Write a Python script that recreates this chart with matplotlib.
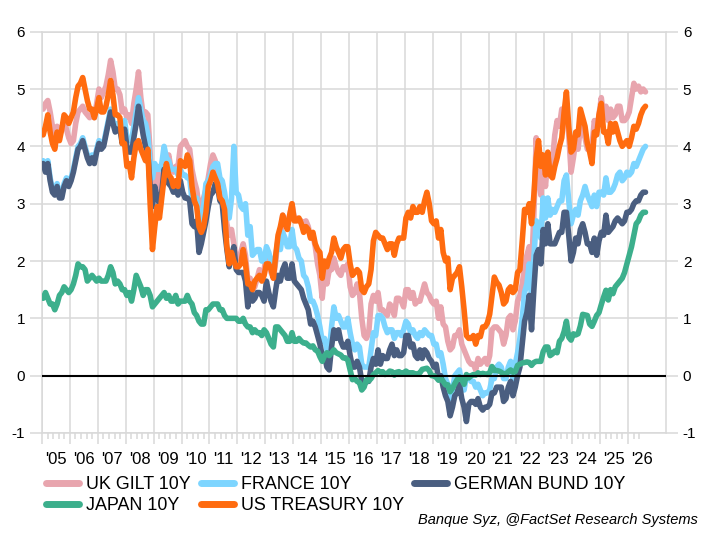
import numpy as np
import matplotlib
matplotlib.use("Agg")
import matplotlib.pyplot as plt
from matplotlib.lines import Line2D
from matplotlib.transforms import blended_transform_factory

plt.rcParams['font.family'] = ['Liberation Sans', 'DejaVu Sans']
plt.rcParams['axes.unicode_minus'] = False

# monthly 10y yields, Jan 2005 .. Aug 2026
uk_gilt = [
    4.65, 4.75, 4.80, 4.60, 4.35, 4.20, 4.35, 4.30, 4.30, 4.45, 4.30, 4.15,
    4.05, 4.10, 4.40, 4.60, 4.65, 4.70, 4.60, 4.55, 4.50, 4.60, 4.50, 4.75,
    5.00, 4.85, 4.95, 5.05, 5.25, 5.50, 5.30, 5.00, 5.00, 4.90, 4.60, 4.65,
    4.50, 4.55, 4.40, 4.75, 5.00, 5.30, 4.85, 4.55, 4.60, 4.55, 3.90, 3.10,
    3.60, 3.65, 3.20, 3.65, 3.80, 3.75, 3.85, 3.60, 3.55, 3.65, 3.65, 4.00,
    4.05, 4.10, 4.00, 3.95, 3.60, 3.40, 3.25, 2.95, 3.00, 3.10, 3.25, 3.45,
    3.70, 3.85, 3.75, 3.55, 3.40, 3.35, 2.95, 2.65, 2.45, 2.55, 2.30, 2.05,
    2.05, 2.15, 2.30, 2.10, 1.65, 1.70, 1.50, 1.55, 1.70, 1.85, 1.80, 1.85,
    2.10, 2.05, 1.80, 1.70, 2.00, 2.40, 2.35, 2.80, 2.70, 2.65, 2.80, 3.00,
    2.75, 2.75, 2.70, 2.70, 2.65, 2.70, 2.60, 2.40, 2.45, 2.25, 1.95, 1.75,
    1.35, 1.80, 1.60, 1.85, 1.85, 2.05, 1.90, 1.80, 1.75, 1.90, 1.85, 1.95,
    1.55, 1.40, 1.45, 1.60, 1.45, 1.00, 0.70, 0.65, 0.75, 1.25, 1.40, 1.30,
    1.45, 1.15, 1.15, 1.10, 1.05, 1.25, 1.20, 1.05, 1.35, 1.35, 1.30, 1.20,
    1.50, 1.50, 1.35, 1.45, 1.25, 1.30, 1.30, 1.45, 1.60, 1.45, 1.40, 1.30,
    1.25, 1.30, 1.00, 1.20, 0.90, 0.85, 0.60, 0.45, 0.50, 0.70, 0.70, 0.80,
    0.55, 0.45, 0.35, 0.25, 0.20, 0.20, 0.10, 0.30, 0.20, 0.25, 0.30, 0.20,
    0.35, 0.80, 0.85, 0.85, 0.80, 0.75, 0.55, 0.70, 1.00, 1.05, 0.80, 0.95,
    1.30, 1.40, 1.60, 1.90, 2.10, 2.25, 1.85, 2.80, 4.15, 3.50, 3.15, 3.65,
    3.30, 3.80, 3.50, 3.75, 4.20, 4.45, 4.35, 4.65, 4.45, 4.60, 4.20, 3.55,
    3.80, 4.10, 3.95, 4.35, 4.30, 4.15, 3.95, 4.00, 4.00, 4.45, 4.25, 4.55,
    4.85, 4.50, 4.70, 4.45, 4.65, 4.50, 4.55, 4.70, 4.70, 4.45, 4.45, 4.50,
    4.60, 4.85, 5.10, 5.00, 5.05, 4.95, 5.00, 4.95,
]

france = [
    3.75, 3.60, 3.75, 3.45, 3.25, 3.20, 3.35, 3.15, 3.15, 3.35, 3.45, 3.35,
    3.45, 3.60, 3.80, 4.00, 4.05, 4.15, 4.00, 3.85, 3.75, 3.85, 3.75, 3.95,
    4.10, 4.00, 4.05, 4.25, 4.45, 4.65, 4.45, 4.30, 4.40, 4.40, 4.20, 4.45,
    4.15, 4.10, 4.10, 4.35, 4.60, 4.85, 4.65, 4.45, 4.40, 4.20, 3.70, 3.45,
    3.70, 3.60, 3.60, 3.70, 4.00, 3.80, 3.75, 3.60, 3.60, 3.60, 3.50, 3.60,
    3.50, 3.50, 3.45, 3.45, 3.05, 3.05, 3.10, 2.65, 2.70, 2.95, 3.35, 3.40,
    3.50, 3.65, 3.70, 3.70, 3.45, 3.40, 3.20, 2.90, 2.75, 3.10, 4.00, 3.20,
    3.15, 2.95, 2.90, 3.00, 2.45, 2.60, 2.10, 2.15, 2.20, 2.20, 2.00, 2.00,
    2.25, 2.15, 2.00, 1.75, 2.10, 2.35, 2.20, 2.50, 2.40, 2.25, 2.25, 2.55,
    2.25, 2.20, 2.05, 2.00, 1.75, 1.70, 1.55, 1.30, 1.30, 1.20, 1.05, 0.85,
    0.60, 0.65, 0.45, 0.40, 0.85, 1.20, 1.00, 1.05, 0.95, 0.85, 0.85, 1.00,
    0.75, 0.55, 0.45, 0.55, 0.50, 0.20, 0.15, 0.15, 0.15, 0.45, 0.75, 0.70,
    1.05, 1.05, 1.00, 0.85, 0.75, 0.80, 0.80, 0.65, 0.75, 0.75, 0.70, 0.80,
    0.95, 0.90, 0.75, 0.80, 0.70, 0.65, 0.75, 0.70, 0.80, 0.75, 0.70, 0.70,
    0.55, 0.55, 0.35, 0.40, 0.20, -0.05, -0.15, -0.40, -0.25, 0.00, 0.05, 0.10,
    -0.15, -0.25, 0.00, 0.00, -0.10, -0.10, -0.20, -0.15, -0.25, -0.35, -0.30, -0.30,
    -0.25, -0.05, -0.05, 0.15, 0.20, 0.15, -0.05, -0.05, 0.15, 0.25, -0.05, 0.20,
    0.40, 0.65, 1.00, 1.45, 1.60, 1.95, 1.35, 2.05, 2.70, 2.65, 2.40, 3.10,
    2.75, 3.10, 2.80, 2.90, 2.85, 2.95, 3.05, 3.05, 3.40, 3.50, 3.05, 2.65,
    2.80, 2.90, 2.80, 3.05, 3.15, 3.30, 3.15, 3.05, 2.95, 3.15, 2.95, 3.20,
    3.20, 3.15, 3.45, 3.20, 3.20, 3.25, 3.35, 3.50, 3.55, 3.40, 3.45, 3.55,
    3.50, 3.55, 3.70, 3.65, 3.75, 3.85, 3.95, 4.00,
]

german_bund = [
    3.70, 3.55, 3.70, 3.40, 3.20, 3.15, 3.30, 3.10, 3.10, 3.30, 3.40, 3.30,
    3.40, 3.55, 3.75, 3.95, 4.00, 4.10, 3.95, 3.80, 3.70, 3.80, 3.70, 3.90,
    4.05, 3.95, 4.00, 4.20, 4.40, 4.60, 4.40, 4.25, 4.30, 4.30, 4.05, 4.30,
    4.00, 3.90, 3.90, 4.15, 4.40, 4.70, 4.45, 4.20, 4.00, 3.90, 3.30, 2.95,
    3.30, 3.10, 3.00, 3.20, 3.60, 3.40, 3.35, 3.30, 3.20, 3.25, 3.15, 3.40,
    3.20, 3.10, 3.10, 3.05, 2.65, 2.60, 2.70, 2.15, 2.30, 2.50, 2.70, 2.95,
    3.15, 3.20, 3.35, 3.30, 3.05, 3.00, 2.55, 2.20, 1.90, 2.10, 2.25, 1.85,
    1.80, 1.80, 1.80, 1.65, 1.20, 1.55, 1.30, 1.35, 1.45, 1.45, 1.40, 1.30,
    1.65, 1.45, 1.30, 1.20, 1.50, 1.75, 1.65, 1.85, 1.95, 1.70, 1.70, 1.95,
    1.65, 1.60, 1.55, 1.50, 1.35, 1.25, 1.15, 0.90, 0.95, 0.85, 0.70, 0.55,
    0.35, 0.35, 0.15, 0.10, 0.50, 0.80, 0.65, 0.80, 0.60, 0.50, 0.50, 0.60,
    0.35, 0.15, 0.15, 0.25, 0.15, -0.10, -0.15, -0.10, -0.10, 0.15, 0.30, 0.20,
    0.45, 0.20, 0.35, 0.30, 0.30, 0.45, 0.55, 0.35, 0.45, 0.35, 0.35, 0.40,
    0.70, 0.70, 0.50, 0.55, 0.35, 0.30, 0.45, 0.30, 0.45, 0.40, 0.30, 0.25,
    0.15, 0.20, -0.05, 0.00, -0.20, -0.35, -0.45, -0.70, -0.55, -0.35, -0.30, -0.15,
    -0.40, -0.55, -0.80, -0.50, -0.45, -0.45, -0.50, -0.40, -0.55, -0.60, -0.55, -0.55,
    -0.50, -0.30, -0.30, -0.20, -0.20, -0.20, -0.45, -0.40, -0.20, -0.10, -0.35, -0.20,
    0.00, 0.15, 0.55, 0.95, 1.10, 1.40, 0.80, 1.50, 2.10, 2.20, 1.95, 2.55,
    2.30, 2.65, 2.30, 2.30, 2.30, 2.40, 2.50, 2.50, 2.85, 2.85, 2.45, 2.00,
    2.15, 2.40, 2.30, 2.55, 2.65, 2.50, 2.30, 2.30, 2.15, 2.40, 2.10, 2.35,
    2.50, 2.45, 2.80, 2.50, 2.55, 2.60, 2.70, 2.75, 2.70, 2.65, 2.70, 2.85,
    2.85, 2.90, 3.00, 3.05, 3.05, 3.15, 3.20, 3.20,
]

japan = [
    1.35, 1.45, 1.35, 1.25, 1.25, 1.15, 1.25, 1.40, 1.45, 1.55, 1.50, 1.45,
    1.50, 1.60, 1.75, 1.95, 1.90, 1.90, 1.85, 1.65, 1.70, 1.75, 1.70, 1.65,
    1.70, 1.65, 1.65, 1.65, 1.75, 1.90, 1.80, 1.60, 1.65, 1.60, 1.50, 1.50,
    1.40, 1.45, 1.30, 1.50, 1.75, 1.65, 1.55, 1.40, 1.50, 1.50, 1.40, 1.20,
    1.25, 1.30, 1.35, 1.40, 1.45, 1.35, 1.40, 1.30, 1.30, 1.40, 1.25, 1.30,
    1.30, 1.30, 1.40, 1.30, 1.25, 1.10, 1.05, 0.95, 0.90, 0.90, 1.15, 1.15,
    1.20, 1.25, 1.25, 1.25, 1.15, 1.15, 1.05, 1.00, 1.00, 1.00, 1.00, 1.00,
    0.95, 0.95, 1.00, 0.90, 0.85, 0.85, 0.75, 0.80, 0.75, 0.75, 0.70, 0.80,
    0.75, 0.65, 0.55, 0.50, 0.85, 0.85, 0.80, 0.75, 0.70, 0.60, 0.60, 0.75,
    0.60, 0.60, 0.65, 0.60, 0.57, 0.57, 0.53, 0.50, 0.52, 0.45, 0.43, 0.33,
    0.25, 0.35, 0.40, 0.35, 0.40, 0.45, 0.40, 0.38, 0.36, 0.31, 0.31, 0.27,
    0.10, -0.07, -0.05, -0.10, -0.12, -0.25, -0.20, -0.07, -0.09, -0.05, 0.02, 0.05,
    0.09, 0.06, 0.07, 0.02, 0.04, 0.08, 0.07, 0.01, 0.06, 0.07, 0.04, 0.05,
    0.08, 0.05, 0.05, 0.05, 0.03, 0.03, 0.05, 0.11, 0.12, 0.13, 0.09, 0.00,
    0.00, -0.03, -0.08, -0.05, -0.10, -0.16, -0.16, -0.28, -0.22, -0.14, -0.07, -0.02,
    -0.07, -0.15, 0.02, -0.04, 0.00, 0.02, 0.01, 0.05, 0.02, 0.04, 0.03, 0.02,
    0.05, 0.16, 0.09, 0.09, 0.08, 0.06, 0.02, 0.03, 0.07, 0.10, 0.06, 0.07,
    0.18, 0.20, 0.22, 0.23, 0.24, 0.23, 0.18, 0.23, 0.25, 0.25, 0.25, 0.42,
    0.50, 0.50, 0.35, 0.38, 0.43, 0.40, 0.60, 0.65, 0.77, 0.95, 0.67, 0.62,
    0.73, 0.71, 0.73, 0.87, 1.07, 1.06, 1.05, 0.90, 0.86, 0.95, 1.05, 1.10,
    1.24, 1.37, 1.49, 1.32, 1.50, 1.43, 1.55, 1.60, 1.65, 1.70, 1.80, 1.95,
    2.10, 2.25, 2.45, 2.65, 2.70, 2.80, 2.85, 2.85,
]

us_treasury = [
    4.20, 4.35, 4.55, 4.25, 4.05, 3.95, 4.25, 4.10, 4.30, 4.55, 4.50, 4.40,
    4.50, 4.60, 4.85, 5.05, 5.10, 5.20, 5.00, 4.80, 4.65, 4.65, 4.50, 4.65,
    4.85, 4.60, 4.60, 4.70, 4.90, 5.15, 4.90, 4.55, 4.55, 4.50, 4.05, 4.05,
    3.65, 3.70, 3.45, 3.80, 4.05, 4.10, 3.95, 3.85, 3.75, 3.95, 3.00, 2.20,
    2.60, 2.95, 2.75, 3.10, 3.45, 3.70, 3.50, 3.45, 3.30, 3.40, 3.30, 3.75,
    3.70, 3.65, 3.85, 3.75, 3.30, 3.05, 2.95, 2.60, 2.50, 2.60, 2.85, 3.30,
    3.40, 3.55, 3.45, 3.35, 3.10, 3.05, 2.90, 2.25, 1.95, 2.15, 2.00, 1.90,
    1.90, 1.95, 2.20, 1.95, 1.60, 1.60, 1.50, 1.65, 1.70, 1.75, 1.65, 1.75,
    1.95, 1.95, 1.85, 1.70, 2.10, 2.45, 2.60, 2.80, 2.65, 2.55, 2.80, 3.00,
    2.70, 2.70, 2.75, 2.65, 2.50, 2.60, 2.55, 2.40, 2.50, 2.30, 2.20, 2.15,
    1.70, 2.00, 1.90, 2.05, 2.15, 2.40, 2.25, 2.15, 2.05, 2.20, 2.25, 2.25,
    1.95, 1.75, 1.80, 1.85, 1.80, 1.50, 1.45, 1.55, 1.60, 1.85, 2.35, 2.50,
    2.45, 2.40, 2.40, 2.30, 2.20, 2.30, 2.30, 2.10, 2.30, 2.40, 2.40, 2.40,
    2.75, 2.85, 2.75, 2.95, 2.85, 2.85, 2.95, 2.85, 3.05, 3.20, 3.00, 2.70,
    2.65, 2.70, 2.40, 2.55, 2.15, 2.00, 2.05, 1.50, 1.70, 1.75, 1.80, 1.90,
    1.55, 1.15, 0.70, 0.65, 0.65, 0.70, 0.55, 0.70, 0.68, 0.85, 0.85, 0.92,
    1.07, 1.40, 1.72, 1.63, 1.58, 1.45, 1.25, 1.30, 1.50, 1.55, 1.45, 1.50,
    1.80, 1.85, 2.35, 2.90, 2.85, 3.00, 2.65, 3.15, 3.80, 4.10, 3.65, 3.85,
    3.50, 3.90, 3.50, 3.45, 3.65, 3.80, 4.00, 4.15, 4.60, 4.95, 4.35, 3.90,
    3.95, 4.25, 4.20, 4.65, 4.50, 4.35, 4.05, 3.90, 3.70, 4.25, 4.20, 4.55,
    4.75, 4.25, 4.25, 4.05, 4.40, 4.25, 4.40, 4.25, 4.10, 4.00, 4.05, 4.10,
    4.00, 4.15, 4.35, 4.30, 4.40, 4.55, 4.65, 4.70,
]

labels = ['UK GILT 10Y', 'FRANCE 10Y', 'GERMAN BUND 10Y', 'JAPAN 10Y', 'US TREASURY 10Y']
colors = ['#E8A5AE', '#7DD5FF', '#4A5E80', '#3CAF8C', '#FF6B0F']
series = [uk_gilt, france, german_bund, japan, us_treasury]

start_year = 2005
t = start_year + (np.arange(len(uk_gilt)) + 0.5) / 12.0

grid_c = '#D9D9D9'

fig = plt.figure(figsize=(7.11, 5.46), dpi=100)
ax = fig.add_axes([42 / 711, 113 / 546, 624 / 711, 401.3 / 546])

for i, (s, c) in enumerate(zip(series, colors)):
    ax.plot(t, s, color=c, lw=4.0, solid_capstyle='round',
            solid_joinstyle='round', zorder=2 + i)

ax.axhline(0, color='black', lw=1.5, zorder=8)

years = np.arange(2005, 2027)
ax.set_xlim(2005, 2027.36)
ax.set_ylim(-1, 6)
ax.set_xticks(years)
ax.set_xticklabels([])
minor = [y + k / 5 for y in years for k in range(1, 5) if y + k / 5 < 2026.45]
ax.set_xticks(minor, minor=True)
ax.tick_params(axis='x', which='major', length=8, width=1.1, color=grid_c)
ax.tick_params(axis='x', which='minor', length=4.3, width=1.1, color=grid_c)

ax.set_yticks(range(-1, 7))
ax.tick_params(axis='y', which='major', length=8.6, width=1.1, color=grid_c,
               labelsize=11, left=True, right=True, labelleft=True,
               labelright=True, pad=3.5)
ax.grid(True, which='major', color=grid_c, lw=1.1, zorder=0)
for sp in ax.spines.values():
    sp.set_color(grid_c)
    sp.set_linewidth(1.1)

tr = blended_transform_factory(ax.transData, ax.transAxes)
for y in years:
    ax.text(y + 0.5, -0.047, "'" + str(y)[2:], transform=tr, ha='center',
            va='top', fontsize=12)

handles = [Line2D([], [], color=c, lw=5, solid_capstyle='round') for c in colors]
order = [0, 3, 1, 4, 2]
fig.legend([handles[i] for i in order], [labels[i] for i in order],
           loc='upper left', bbox_to_anchor=(46 / 711, 1 - 476 / 546),
           ncol=3, frameon=False, fontsize=12.9, handlelength=1.85,
           handletextpad=0.4, columnspacing=0.55, labelspacing=0.22,
           borderpad=0, borderaxespad=0)

fig.text(698 / 711, 1 - 520 / 546, 'Banque Syz, @FactSet Research Systems',
         ha='right', va='center', style='italic', fontsize=10.5)

fig.savefig('out.png', dpi=100)
